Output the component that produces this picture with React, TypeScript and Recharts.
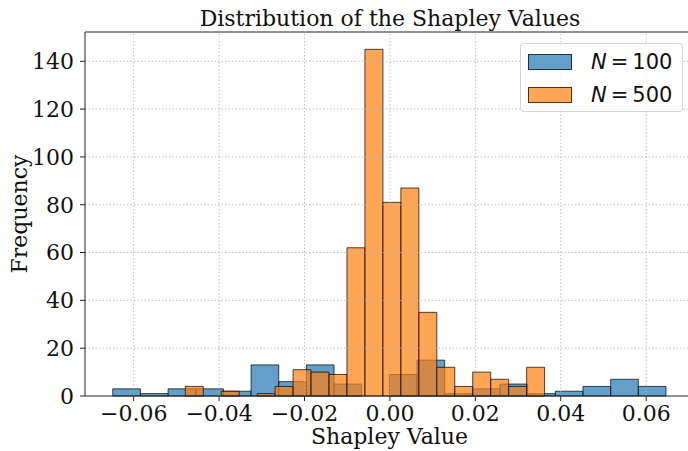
import {
  ComposedChart,
  Label,
  Legend,
  ReferenceArea,
  ReferenceLine,
  XAxis,
  YAxis,
} from "recharts";

const BLUE_FILL = "rgba(31,119,180,0.7)";
const ORANGE_FILL = "rgba(255,127,14,0.7)";

// N = 100, 20 bins
const BLUE_EDGES = [
  -0.0649, -0.058423, -0.051946, -0.045469, -0.038992, -0.032515, -0.026038,
  -0.019561, -0.013084, -0.006607, -0.00013, 0.006347, 0.012824, 0.019301,
  0.025778, 0.032255, 0.038732, 0.045209, 0.051686, 0.058163, 0.06464,
];
const BLUE_COUNTS = [3, 1, 3, 3, 2, 13, 6, 13, 5, 0, 9, 15, 1, 3, 5, 1, 2, 4, 7, 4];

// N = 500, 20 bins
const ORANGE_EDGES = [
  -0.04792, -0.043713, -0.039506, -0.035299, -0.031092, -0.026885, -0.022678,
  -0.018471, -0.014264, -0.010057, -0.00585, -0.001643, 0.002564, 0.006771,
  0.010978, 0.015185, 0.019392, 0.023599, 0.027806, 0.032013, 0.03622,
];
const ORANGE_COUNTS = [4, 0, 2, 0, 1, 4, 11, 10, 9, 62, 145, 81, 87, 35, 12, 4, 10, 7, 4, 12];

const X_TICKS = [-0.06, -0.04, -0.02, 0, 0.02, 0.04, 0.06];
const Y_TICKS = [0, 20, 40, 60, 80, 100, 120, 140];
const X_MIN = -0.0714;
const X_MAX = 0.0712;
const Y_MAX = 152.25;

const LEGEND_ITEMS = [
  { label: "100", fill: BLUE_FILL },
  { label: "500", fill: ORANGE_FILL },
];

const fmtX = (v: number) => (v < 0 ? "\u2212" : "") + Math.abs(v).toFixed(2);

function LegendBox() {
  return (
    <div
      style={{
        width: 163,
        height: 69,
        boxSizing: "border-box",
        border: "1px solid rgba(204,204,204,0.8)",
        borderRadius: 4,
        background: "rgba(255,255,255,0.8)",
        fontFamily: '"DejaVu Sans", sans-serif',
        fontSize: 21,
        color: "#111",
        paddingTop: 1,
      }}
    >
      {LEGEND_ITEMS.map((it) => (
        <div key={it.label} style={{ display: "flex", alignItems: "center", height: 33 }}>
          <span
            style={{
              display: "inline-block",
              width: 44,
              height: 16,
              marginLeft: 7,
              boxSizing: "border-box",
              background: it.fill,
              border: "1px solid rgba(0,0,0,0.7)",
            }}
          />
          <span style={{ marginLeft: 19, whiteSpace: "nowrap" }}>
            <i>N</i>
            <span style={{ margin: "0 4px" }}>=</span>
            {it.label}
          </span>
        </div>
      ))}
    </div>
  );
}

function YLabel(props: any) {
  const vb = props.viewBox || { x: 0, y: 0, width: 0, height: 0 };
  const cx = vb.x + 19;
  const cy = vb.y + vb.height / 2;
  return (
    <text
      x={cx}
      y={cy}
      transform={`rotate(-90, ${cx}, ${cy})`}
      textAnchor="middle"
      dominantBaseline="central"
      fontSize={22}
      fill="#111"
    >
      Frequency
    </text>
  );
}

export default function App() {
  return (
    <div
      style={{
        position: "absolute",
        left: 0,
        top: 0,
        width: 688,
        height: 451,
        overflow: "hidden",
        background: "#fff",
        fontFamily: '"DejaVu Serif", serif',
      }}
    >
      <ComposedChart width={700} height={451} margin={{ top: 32, right: 6, bottom: 0, left: 0 }}>
        <XAxis
          type="number"
          dataKey="x"
          domain={[X_MIN, X_MAX]}
          ticks={X_TICKS}
          tickFormatter={fmtX}
          allowDataOverflow
          height={55}
          tickSize={5}
          tickMargin={4}
          stroke="#222"
          tick={{ fontSize: 22, fill: "#111" }}
        >
          <Label value="Shapley Value" position="insideBottom" offset={7} fontSize={22} fill="#111" />
        </XAxis>
        <YAxis
          type="number"
          domain={[0, Y_MAX]}
          ticks={Y_TICKS}
          allowDataOverflow
          width={85}
          tickSize={5}
          tickMargin={6}
          stroke="#222"
          tick={{ fontSize: 22, fill: "#111" }}
        >
          <Label content={YLabel} />
        </YAxis>
        {BLUE_COUNTS.map((c, i) => (
          <ReferenceArea
            key={`b${i}`}
            x1={BLUE_EDGES[i]}
            x2={BLUE_EDGES[i + 1]}
            y1={0}
            y2={c}
            fill="#1f77b4"
            fillOpacity={0.7}
            stroke="#000"
            strokeOpacity={0.7}
            strokeWidth={1}
            isAnimationActive={false}
          />
        ))}
        {ORANGE_COUNTS.map((c, i) => (
          <ReferenceArea
            key={`o${i}`}
            x1={ORANGE_EDGES[i]}
            x2={ORANGE_EDGES[i + 1]}
            y1={0}
            y2={c}
            fill="#ff7f0e"
            fillOpacity={0.7}
            stroke="#000"
            strokeOpacity={0.7}
            strokeWidth={1}
            isAnimationActive={false}
          />
        ))}
        {X_TICKS.map((t) => (
          <ReferenceLine key={`gx${t}`} x={t} stroke="#b0b0b0" strokeDasharray="1.5 2" strokeWidth={0.8} />
        ))}
        {Y_TICKS.filter((t) => t > 0).map((t) => (
          <ReferenceLine key={`gy${t}`} y={t} stroke="#b0b0b0" strokeDasharray="1.5 2" strokeWidth={0.8} />
        ))}
        <ReferenceLine y={Y_MAX} stroke="#222" strokeWidth={1} />
        <Legend
          layout="vertical"
          verticalAlign="middle"
          align="center"
          content={() => <LegendBox />}
          wrapperStyle={{ left: 520, top: 43, width: 163, height: 69 }}
        />
      </ComposedChart>
      <div
        style={{
          position: "absolute",
          left: 0,
          top: 8,
          width: 780,
          textAlign: "center",
          fontSize: 22,
          lineHeight: "22px",
          color: "#111",
          whiteSpace: "nowrap",
        }}
      >
        Distribution of the Shapley Values
      </div>
    </div>
  );
}
